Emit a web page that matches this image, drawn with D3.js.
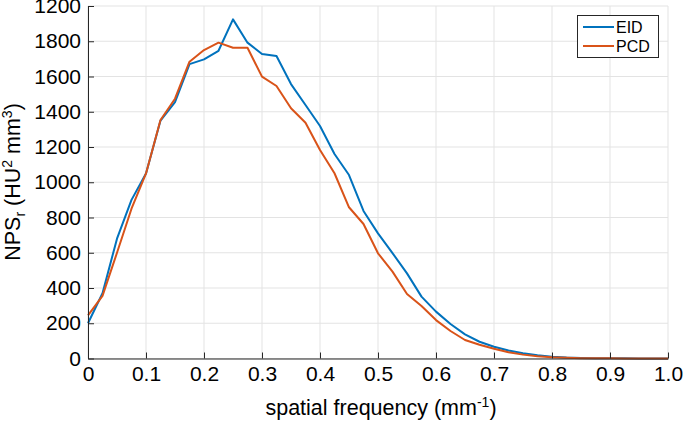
<!DOCTYPE html>
<html><head><meta charset="utf-8">
<script src="https://cdn.jsdelivr.net/npm/d3@7"></script>
<style>body{margin:0;background:#fff;}svg{display:block;font-family:"Liberation Sans",Arial,sans-serif;}</style>
</head><body><svg id="c" width="684" height="421"></svg>
<script>
const freq = d3.range(0, 41).map(i => i * 0.025);
const eid = [200,370,680,900,1050,1350,1455,1670,1697,1746,1924,1792,1728,1716,1557,1438,1319,1160,1041,837,710,598,483,351,266,196,137,95,67,45,30,18,10,5,3,2,1,1,0,0,0];
const pcd = [245,355,600,850,1050,1353,1474,1684,1750,1792,1763,1763,1599,1546,1420,1338,1183,1051,858,763,597,493,366,298,218,156,105,78,55,35,22,13,7,4,2,1,1,0,0,0,0];
const xTicks = [0,0.1,0.2,0.3,0.4,0.5,0.6,0.7,0.8,0.9,1.0];
const xTickLabels = ["0","0.1","0.2","0.3","0.4","0.5","0.6","0.7","0.8","0.9","1.0"];
const yTicks = [0,200,400,600,800,1000,1200,1400,1600,1800,2000];
const yTickLabels = ["0","200","400","600","800","1000","1200","1400","1600","1800","1200"];
const seriesNames = ["EID","PCD"];
const colors = ["#0072BD","#D95319"];

const svg = d3.select("#c");
const x = d3.scaleLinear().domain([0,1]).range([88,668]);
const y = d3.scaleLinear().domain([0,2000]).range([358.5,6]);

// grid
svg.append("g").selectAll("line").data(xTicks).join("line")
  .attr("x1",d=>x(d)).attr("x2",d=>x(d)).attr("y1",y(0)).attr("y2",y(2000))
  .attr("stroke","#e3e3e3").attr("stroke-width",1);
svg.append("g").selectAll("line").data(yTicks).join("line")
  .attr("x1",x(0)).attr("x2",x(1)).attr("y1",d=>y(d)).attr("y2",d=>y(d))
  .attr("stroke","#e3e3e3").attr("stroke-width",1);

// lines
const line = d3.line().x((d,i)=>x(freq[i])).y(d=>y(d));
[eid,pcd].forEach((s,k)=>{
  svg.append("path").datum(s).attr("d",line).attr("fill","none")
    .attr("stroke",colors[k]).attr("stroke-width",2).attr("stroke-linejoin","round");
});
// axes
const xAxis = d3.axisBottom(x).tickValues(xTicks).tickFormat((d,i)=>xTickLabels[i]).tickSizeInner(-6).tickSizeOuter(0).tickPadding(8);
const gx = svg.append("g").attr("transform",`translate(0,${y(0)})`).call(xAxis);
const yAxis = d3.axisLeft(y).tickValues(yTicks).tickFormat((d,i)=>yTickLabels[i]).tickSizeInner(-6).tickSizeOuter(0).tickPadding(7);
const gy = svg.append("g").attr("transform",`translate(${x(0)},0)`).call(yAxis);
[gx,gy].forEach(g=>{
  g.select(".domain").attr("stroke","#262626").attr("stroke-width",1);
  g.selectAll(".tick line").attr("stroke","#262626");
  g.selectAll("text").attr("fill","#000").style("font-size","21px").style("font-family","Liberation Sans, Arial, sans-serif");
});

// axis labels
const xl = svg.append("text").attr("x",381).attr("y",415).attr("text-anchor","middle")
  .style("font-size","21.5px").attr("fill","#000");
xl.append("tspan").text("spatial frequency (mm");
xl.append("tspan").text("-1").attr("dy",-8).style("font-size","14px");
xl.append("tspan").text(")").attr("dy",8);

const yl = svg.append("text").attr("transform","translate(20,182) rotate(-90)").attr("text-anchor","middle")
  .style("font-size","21.5px").attr("fill","#000");
yl.append("tspan").text("NPS");
yl.append("tspan").text("r").attr("dy",5).style("font-size","14px");
yl.append("tspan").text(" (HU").attr("dy",-5);
yl.append("tspan").text("2").attr("dy",-8).style("font-size","14px");
yl.append("tspan").text(" mm").attr("dy",8);
yl.append("tspan").text("3").attr("dy",-8).style("font-size","14px");
yl.append("tspan").text(")").attr("dy",8);

// legend
const lg = svg.append("g");
lg.append("rect").attr("x",577.5).attr("y",15.5).attr("width",81).attr("height",42)
  .attr("fill","#fff").attr("stroke","#262626").attr("stroke-width",1);
seriesNames.forEach((n,i)=>{
  const cy = 27 + i*19;
  lg.append("line").attr("x1",583).attr("x2",614).attr("y1",cy).attr("y2",cy)
    .attr("stroke",colors[i]).attr("stroke-width",2);
  lg.append("text").attr("x",616).attr("y",cy+6).text(n).style("font-size","16px").attr("fill","#000");
});
</script></body></html>
